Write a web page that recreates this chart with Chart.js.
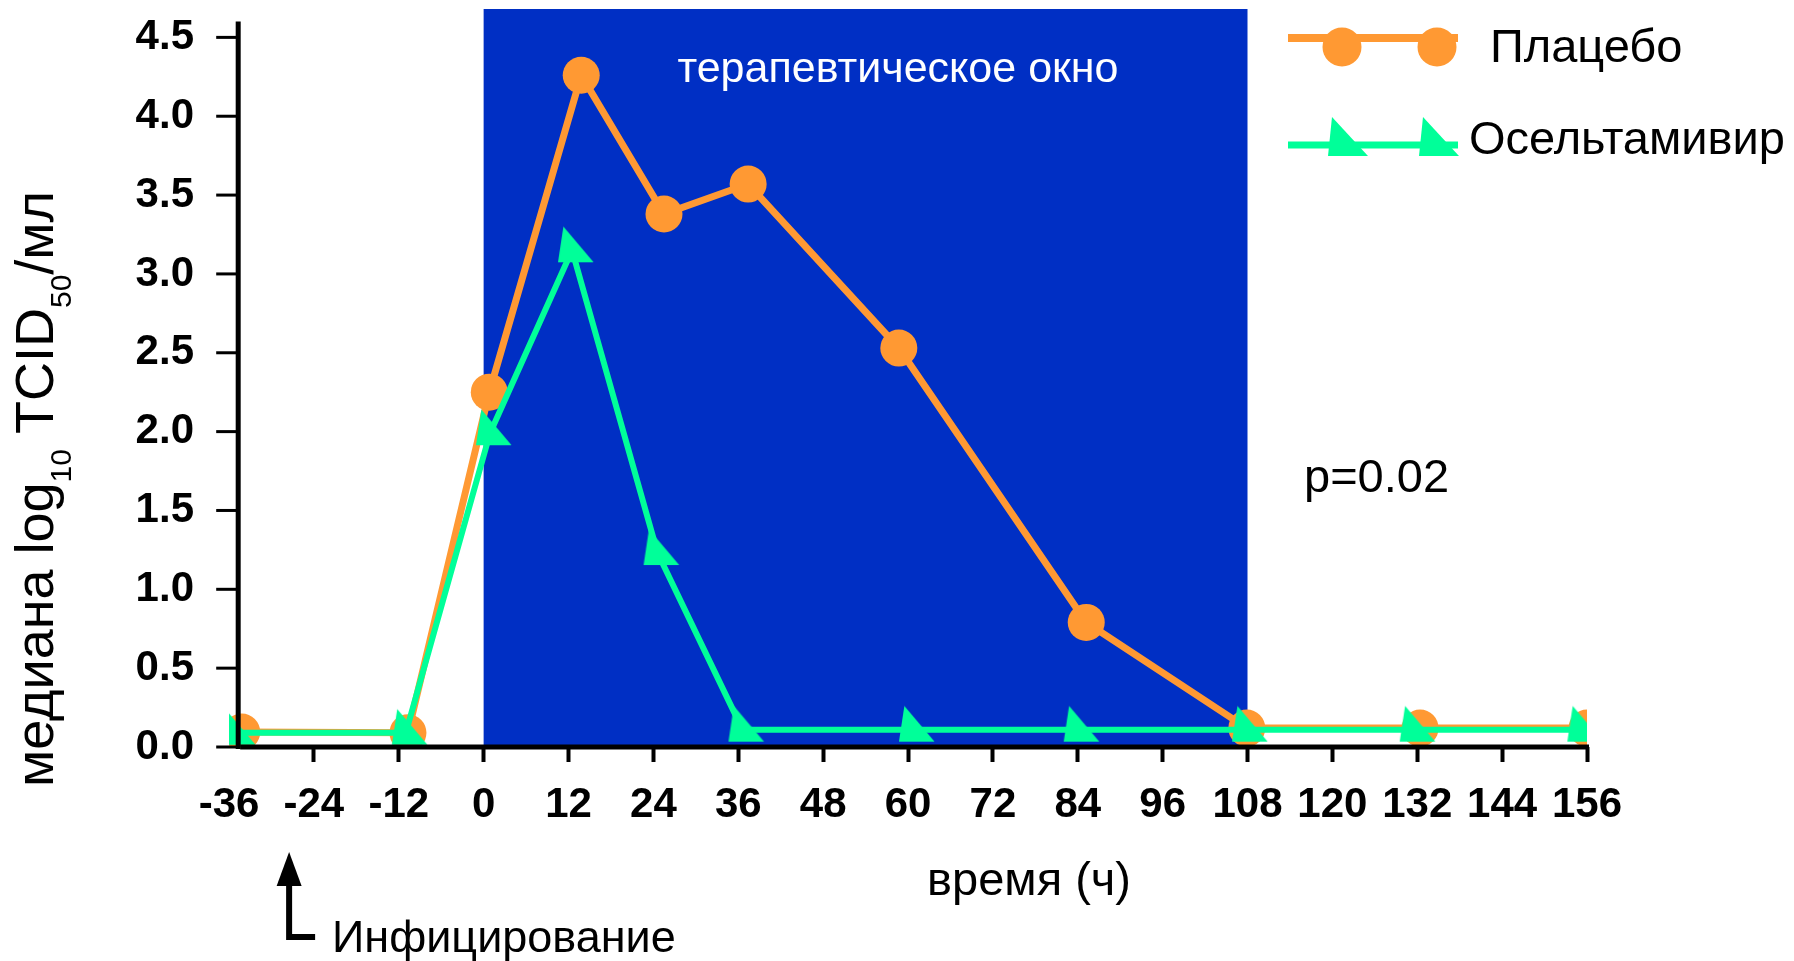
<!DOCTYPE html>
<html>
<head>
<meta charset="utf-8">
<script src="https://cdn.jsdelivr.net/npm/chart.js@4/dist/chart.umd.min.js"></script>
<style>
  html, body { margin: 0; padding: 0; background: #ffffff; }
  #wrap { width: 1794px; height: 961px; }
</style>
</head>
<body>
<div id="wrap"><canvas id="c" width="1794" height="961"></canvas></div>
<script>
// ---- data ----
const seriesNames = ['Плацебо', 'Осельтамивир'];
const placeboHours = [-34.2, -10.7, 0.8, 13.8, 25.5, 37.4, 58.7, 85.2, 107.9, 132.4, 156.0];
const placeboLog   = [0.095, 0.09, 2.25, 4.26, 3.38, 3.57, 2.53, 0.79, 0.12, 0.12, 0.12];
const oseltamivirHours = [-35.3, -11.0, 0.9, 12.5, 24.6, 36.6, 60.7, 84.0, 107.8, 131.5, 155.2];
const oseltamivirLog   = [0.09, 0.09, 1.99, 3.15, 1.23, 0.11, 0.11, 0.11, 0.11, 0.11, 0.11];
const xTickValues = [-36, -24, -12, 0, 12, 24, 36, 48, 60, 72, 84, 96, 108, 120, 132, 144, 156];
const yTickValues = [0, 0.5, 1.0, 1.5, 2.0, 2.5, 3.0, 3.5, 4.0, 4.5];
const therapeuticWindow = [0, 108];
const windowLabel = 'терапевтическое окно';
const pValueLabel = 'p=0.02';
const xTitle = 'время (ч)';
const infectionLabel = 'Инфицирование';
const infectionHour = -27.5;

// ---- styles ----
const FONT = '"Liberation Sans", Arial, Helvetica, sans-serif';
const ORANGE = '#FF9933';
const GREEN = '#00FF99';
const BLUE = '#002FC4';

function makeTriangle(s) {
  const size = Math.ceil(70 * s);
  const cv = document.createElement('canvas');
  cv.width = size; cv.height = size;
  const c = cv.getContext('2d');
  const cx = size / 2, cy = size / 2;
  c.fillStyle = GREEN;
  c.beginPath();
  c.moveTo(cx - 8 * s, cy - 22 * s);
  c.lineTo(cx + 20 * s, cy + 11 * s);
  c.lineTo(cx - 13 * s, cy + 11 * s);
  c.closePath();
  c.fill();
  return cv;
}
const triMarker = makeTriangle(1.08);

const toPoints = (xs, ys) => xs.map((x, i) => ({ x: x, y: ys[i] }));

const decorPlugin = {
  id: 'decor',
  beforeDatasetsDraw(chart) {
    const { ctx, chartArea, scales: { x, y } } = chart;
    const x0 = x.getPixelForValue(therapeuticWindow[0]);
    const x1 = x.getPixelForValue(therapeuticWindow[1]);
    const yb = y.getPixelForValue(0);
    ctx.save();
    ctx.fillStyle = BLUE;
    ctx.fillRect(x0, chartArea.top, x1 - x0, yb - chartArea.top);
    ctx.restore();
  },
  afterDatasetsDraw(chart) {
    const { ctx, scales: { x, y } } = chart;
    const axisX = x.getPixelForValue(-34.7);
    const yb = y.getPixelForValue(0);
    const yt = y.getPixelForValue(4.6);
    ctx.save();
    ctx.strokeStyle = '#000';
    ctx.lineWidth = 5;
    ctx.beginPath();
    ctx.moveTo(axisX, yt);
    ctx.lineTo(axisX, yb + 2);
    ctx.stroke();
    ctx.lineWidth = 5;
    ctx.beginPath();
    ctx.moveTo(axisX + 2, yb);
    ctx.lineTo(x.getPixelForValue(156) + 2, yb);
    ctx.stroke();
    ctx.lineWidth = 3;
    y.ticks.forEach(t => {
      const py = y.getPixelForValue(t.value);
      ctx.beginPath();
      ctx.moveTo(axisX - 22, py);
      ctx.lineTo(axisX, py);
      ctx.stroke();
    });
    ctx.restore();
  },
  afterDraw(chart) {
    const { ctx, scales: { x, y } } = chart;
    ctx.save();
    ctx.textBaseline = 'alphabetic';

    ctx.fillStyle = '#ffffff';
    ctx.font = '43px ' + FONT;
    ctx.textAlign = 'center';
    ctx.fillText(windowLabel, 898, 82);

    ctx.fillStyle = '#000';
    ctx.font = '47px ' + FONT;
    ctx.textAlign = 'left';
    ctx.fillText(pValueLabel, 1304, 492);

    ctx.textAlign = 'center';
    ctx.font = '47px ' + FONT;
    ctx.fillText(xTitle, 1029, 895);

    const ax = x.getPixelForValue(infectionHour);
    ctx.strokeStyle = '#000';
    ctx.lineWidth = 6;
    ctx.beginPath();
    ctx.moveTo(ax, 880);
    ctx.lineTo(ax, 937);
    ctx.lineTo(ax + 26, 937);
    ctx.stroke();
    ctx.fillStyle = '#000';
    ctx.beginPath();
    ctx.moveTo(ax, 852);
    ctx.lineTo(ax + 12.5, 886);
    ctx.lineTo(ax - 12.5, 886);
    ctx.closePath();
    ctx.fill();
    ctx.textAlign = 'left';
    ctx.font = '45px ' + FONT;
    ctx.fillText(infectionLabel, 332, 952);

    const parts = [
      { t: 'медиана log', s: 54, dy: 0 },
      { t: '10', s: 30, dy: 18 },
      { t: ' TCID', s: 54, dy: 0 },
      { t: '50', s: 30, dy: 18 },
      { t: '/мл', s: 54, dy: 0 }
    ];
    let total = 0;
    parts.forEach(p => { ctx.font = p.s + 'px ' + FONT; p.w = ctx.measureText(p.t).width; total += p.w; });
    ctx.translate(53, 489);
    ctx.rotate(-Math.PI / 2);
    let cx = -total / 2;
    ctx.textAlign = 'left';
    parts.forEach(p => {
      ctx.font = p.s + 'px ' + FONT;
      ctx.fillText(p.t, cx, p.dy);
      cx += p.w;
    });
    ctx.restore();

    // legend
    ctx.save();
    ctx.strokeStyle = ORANGE;
    ctx.lineWidth = 8;
    ctx.beginPath();
    ctx.moveTo(1288, 38); ctx.lineTo(1458, 38);
    ctx.stroke();
    ctx.fillStyle = ORANGE;
    [1342, 1437].forEach(cx2 => {
      ctx.beginPath();
      ctx.arc(cx2, 47, 19.5, 0, Math.PI * 2);
      ctx.fill();
    });
    ctx.strokeStyle = GREEN;
    ctx.lineWidth = 7;
    ctx.beginPath();
    ctx.moveTo(1288, 145); ctx.lineTo(1458, 145);
    ctx.stroke();
    ctx.fillStyle = GREEN;
    [1332, 1423].forEach(ax2 => {
      ctx.beginPath();
      ctx.moveTo(ax2, 117);
      ctx.lineTo(ax2 + 36, 156);
      ctx.lineTo(ax2 - 4, 156);
      ctx.closePath();
      ctx.fill();
    });
    ctx.fillStyle = '#000';
    ctx.font = '47px ' + FONT;
    ctx.textAlign = 'left';
    ctx.textBaseline = 'alphabetic';
    ctx.fillText(seriesNames[0], 1490, 62);
    ctx.fillText(seriesNames[1], 1469, 154);
    ctx.restore();
  }
};

new Chart(document.getElementById('c'), {
  type: 'line',
  data: {
    datasets: [
      {
        label: seriesNames[1],
        data: toPoints(oseltamivirHours, oseltamivirLog),
        borderColor: GREEN,
        backgroundColor: GREEN,
        borderWidth: 6,
        pointStyle: triMarker,
        pointRadius: 17,
        pointBorderWidth: 0,
        tension: 0,
        order: 0
      },
      {
        label: seriesNames[0],
        data: toPoints(placeboHours, placeboLog),
        borderColor: ORANGE,
        backgroundColor: ORANGE,
        pointBackgroundColor: ORANGE,
        borderWidth: 7,
        pointStyle: 'circle',
        pointRadius: 18.5,
        pointBorderWidth: 0,
        tension: 0,
        order: 1
      }
    ]
  },
  options: {
    responsive: false,
    animation: false,
    events: [],
    layout: { autoPadding: false, padding: { top: 9, right: 207, bottom: 132, left: 0 } },
    plugins: { legend: { display: false }, tooltip: { enabled: false } },
    scales: {
      x: {
        type: 'linear',
        min: -36,
        max: 156,
        afterBuildTicks: s => { s.ticks = xTickValues.map(v => ({ value: v })); },
        afterFit: s => { s.height = 82; s.paddingLeft = 0; s.paddingRight = 0; },
        border: { display: false },
        grid: {
          drawOnChartArea: false,
          tickLength: 15,
          tickWidth: 4,
          tickColor: ctx => (ctx.tick && ctx.tick.value === -36) ? 'rgba(0,0,0,0)' : '#000'
        },
        ticks: {
          color: '#000',
          padding: 18,
          maxRotation: 0,
          autoSkip: false,
          font: { family: FONT, size: 42, weight: 'bold' },
          callback: v => String(v)
        }
      },
      y: {
        min: 0,
        max: 4.68,
        afterBuildTicks: s => { s.ticks = yTickValues.map(v => ({ value: v })); },
        afterFit: s => { s.width = 229; s.paddingTop = 0; s.paddingBottom = 0; },
        border: { display: false },
        grid: { display: false },
        ticks: {
          color: '#000',
          padding: 27,
          font: { family: FONT, size: 42, weight: 'bold' },
          callback: v => Number(v).toFixed(1)
        }
      }
    }
  },
  plugins: [decorPlugin]
});
</script>
</body>
</html>
